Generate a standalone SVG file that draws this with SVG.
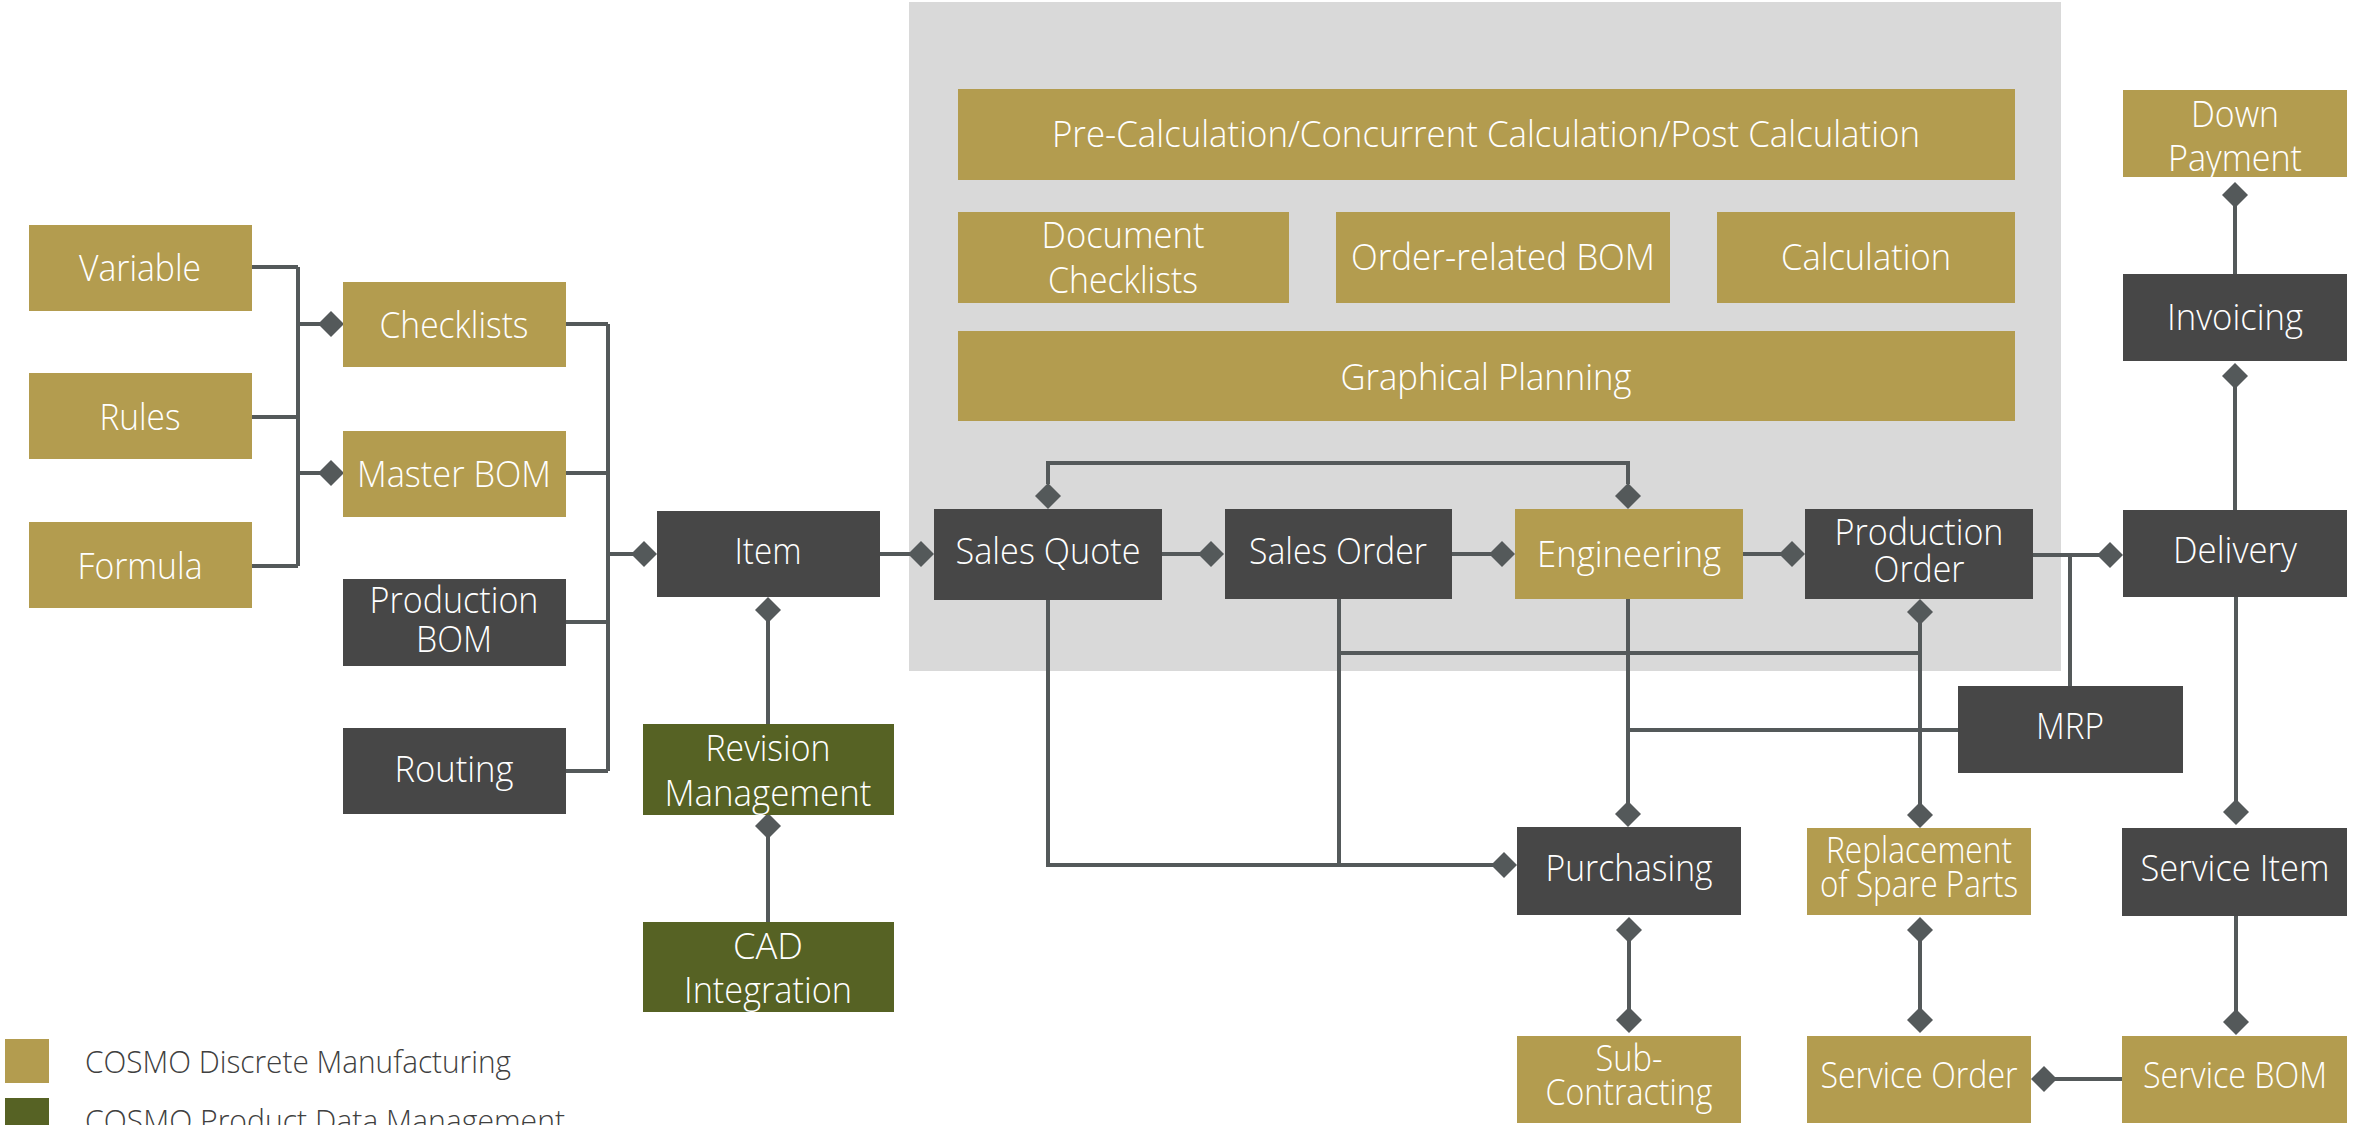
<svg xmlns="http://www.w3.org/2000/svg" xmlns:xlink="http://www.w3.org/1999/xlink" width="2354" height="1125" viewBox="0 0 2354 1125">
<defs>
<style>
.tan{fill:#B39C4F}
.dk{fill:#474747}
.gr{fill:#566224}
.t{font-family:"Open Sans","Lato","Liberation Sans",sans-serif;font-weight:300;font-size:36px;fill:#FFFFFF;text-anchor:middle}
.lg{font-family:"Open Sans","Lato","Liberation Sans",sans-serif;font-weight:300;font-size:32px;fill:#404040}
.c{fill:none;stroke:#54595A;stroke-width:4}
.dm{fill:#54595A}
</style>
<path id="d" d="M0,-13 L13,0 L0,13 L-13,0 Z"/>
</defs>
<rect width="2354" height="1125" fill="#FFFFFF"/>
<rect x="909" y="2" width="1152" height="669" fill="#D9D9D9"/>

<g id="connectors">
<path class="c" d="M252,267H298M252,417H298M252,566H298M298,267V566M298,324H320M298,473H320"/>
<path class="c" d="M566,324H608M566,473H608M566,622H608M566,771H608M608,324V771M608,554H634"/>
<path class="c" d="M880,554H910M1162,554H1202M1452,554H1492M1743,554H1782M2033,555H2100M2070,555V686"/>
<path class="c" d="M1048,484V463H1628V484"/>
<path class="c" d="M1048,600V865H1494M1339,599V865M1339,653H1920"/>
<path class="c" d="M1628,599V804M1628,730H1958"/>
<path class="c" d="M1920,612V805"/>
<path class="c" d="M768,610V724M768,826V922"/>
<path class="c" d="M1629,930V1020M1920,930V1020"/>
<path class="c" d="M2236,597V802M2236,916V1012M2122,1079H2046"/>
<path class="c" d="M2235,376V510M2235,195V274"/>
<g class="dm">
<use xlink:href="#d" x="331" y="324"/>
<use xlink:href="#d" x="331" y="473"/>
<use xlink:href="#d" x="644" y="554"/>
<use xlink:href="#d" x="921" y="554"/>
<use xlink:href="#d" x="1211" y="554"/>
<use xlink:href="#d" x="1502" y="554"/>
<use xlink:href="#d" x="1792" y="554"/>
<use xlink:href="#d" x="2110" y="555"/>
<use xlink:href="#d" x="1048" y="496"/>
<use xlink:href="#d" x="1628" y="496"/>
<use xlink:href="#d" x="1504" y="865"/>
<use xlink:href="#d" x="1628" y="814"/>
<use xlink:href="#d" x="1920" y="612"/>
<use xlink:href="#d" x="1920" y="815"/>
<use xlink:href="#d" x="768" y="610"/>
<use xlink:href="#d" x="768" y="826"/>
<use xlink:href="#d" x="1629" y="930"/>
<use xlink:href="#d" x="1629" y="1020"/>
<use xlink:href="#d" x="1920" y="930"/>
<use xlink:href="#d" x="1920" y="1020"/>
<use xlink:href="#d" x="2236" y="812"/>
<use xlink:href="#d" x="2236" y="1022"/>
<use xlink:href="#d" x="2044" y="1079"/>
<use xlink:href="#d" x="2235" y="376"/>
<use xlink:href="#d" x="2235" y="195"/>
</g>
</g>

<g id="pre-calculation"><rect class="tan" x="958" y="89" width="1057" height="91"/><text class="t" x="1486" y="147" textLength="868" lengthAdjust="spacingAndGlyphs">Pre-Calculation/Concurrent Calculation/Post Calculation</text></g>
<g id="document-checklists"><rect class="tan" x="958" y="212" width="331" height="91"/><text class="t" x="1123" y="248" textLength="163" lengthAdjust="spacingAndGlyphs">Document</text><text class="t" x="1123" y="293" textLength="150" lengthAdjust="spacingAndGlyphs">Checklists</text></g>
<g id="order-related-bom"><rect class="tan" x="1336" y="212" width="334" height="91"/><text class="t" x="1503" y="270" textLength="304" lengthAdjust="spacingAndGlyphs">Order-related BOM</text></g>
<g id="calculation"><rect class="tan" x="1717" y="212" width="298" height="91"/><text class="t" x="1866" y="270" textLength="170" lengthAdjust="spacingAndGlyphs">Calculation</text></g>
<g id="graphical-planning"><rect class="tan" x="958" y="331" width="1057" height="90"/><text class="t" x="1486" y="390" textLength="291" lengthAdjust="spacingAndGlyphs">Graphical Planning</text></g>

<g id="variable"><rect class="tan" x="29" y="225" width="223" height="86"/><text class="t" x="140" y="281" textLength="122" lengthAdjust="spacingAndGlyphs">Variable</text></g>
<g id="rules"><rect class="tan" x="29" y="373" width="223" height="86"/><text class="t" x="140" y="430" textLength="81" lengthAdjust="spacingAndGlyphs">Rules</text></g>
<g id="formula"><rect class="tan" x="29" y="522" width="223" height="86"/><text class="t" x="140" y="579" textLength="125" lengthAdjust="spacingAndGlyphs">Formula</text></g>
<g id="checklists"><rect class="tan" x="343" y="282" width="223" height="85"/><text class="t" x="454" y="338" textLength="149" lengthAdjust="spacingAndGlyphs">Checklists</text></g>
<g id="master-bom"><rect class="tan" x="343" y="431" width="223" height="86"/><text class="t" x="454" y="487" textLength="194" lengthAdjust="spacingAndGlyphs">Master BOM</text></g>
<g id="production-bom"><rect class="dk" x="343" y="579" width="223" height="87"/><text class="t" x="454" y="613" textLength="169" lengthAdjust="spacingAndGlyphs">Production</text><text class="t" x="454" y="652" textLength="76" lengthAdjust="spacingAndGlyphs">BOM</text></g>
<g id="routing"><rect class="dk" x="343" y="728" width="223" height="86"/><text class="t" x="454" y="782" textLength="119" lengthAdjust="spacingAndGlyphs">Routing</text></g>
<g id="item"><rect class="dk" x="657" y="511" width="223" height="86"/><text class="t" x="768" y="564" textLength="67" lengthAdjust="spacingAndGlyphs">Item</text></g>
<g id="revision-management"><rect class="gr" x="643" y="724" width="251" height="91"/><text class="t" x="768" y="761" textLength="125" lengthAdjust="spacingAndGlyphs">Revision</text><text class="t" x="768" y="806" textLength="207" lengthAdjust="spacingAndGlyphs">Management</text></g>
<g id="cad-integration"><rect class="gr" x="643" y="922" width="251" height="90"/><text class="t" x="768" y="959" textLength="70" lengthAdjust="spacingAndGlyphs">CAD</text><text class="t" x="768" y="1003" textLength="168" lengthAdjust="spacingAndGlyphs">Integration</text></g>
<g id="sales-quote"><rect class="dk" x="934" y="509" width="228" height="91"/><text class="t" x="1048" y="564" textLength="185" lengthAdjust="spacingAndGlyphs">Sales Quote</text></g>
<g id="sales-order"><rect class="dk" x="1225" y="509" width="227" height="90"/><text class="t" x="1338" y="564" textLength="178" lengthAdjust="spacingAndGlyphs">Sales Order</text></g>
<g id="engineering"><rect class="tan" x="1515" y="509" width="228" height="90"/><text class="t" x="1629" y="567" textLength="184" lengthAdjust="spacingAndGlyphs">Engineering</text></g>
<g id="production-order"><rect class="dk" x="1805" y="509" width="228" height="90"/><text class="t" x="1919" y="545" textLength="169" lengthAdjust="spacingAndGlyphs">Production</text><text class="t" x="1919" y="582" textLength="91" lengthAdjust="spacingAndGlyphs">Order</text></g>
<g id="down-payment"><rect class="tan" x="2123" y="90" width="224" height="87"/><text class="t" x="2235" y="127" textLength="88" lengthAdjust="spacingAndGlyphs">Down</text><text class="t" x="2235" y="171" textLength="134" lengthAdjust="spacingAndGlyphs">Payment</text></g>
<g id="invoicing"><rect class="dk" x="2123" y="274" width="224" height="87"/><text class="t" x="2235" y="330" textLength="136" lengthAdjust="spacingAndGlyphs">Invoicing</text></g>
<g id="delivery"><rect class="dk" x="2123" y="510" width="224" height="87"/><text class="t" x="2235" y="563" textLength="124" lengthAdjust="spacingAndGlyphs">Delivery</text></g>
<g id="mrp"><rect class="dk" x="1958" y="686" width="225" height="87"/><text class="t" x="2070" y="739" textLength="68" lengthAdjust="spacingAndGlyphs">MRP</text></g>
<g id="purchasing"><rect class="dk" x="1517" y="827" width="224" height="88"/><text class="t" x="1629" y="881" textLength="167" lengthAdjust="spacingAndGlyphs">Purchasing</text></g>
<g id="replacement-of-spare-parts"><rect class="tan" x="1807" y="828" width="224" height="87"/><text class="t" x="1919" y="863" textLength="186" lengthAdjust="spacingAndGlyphs">Replacement</text><text class="t" x="1919" y="897" textLength="198" lengthAdjust="spacingAndGlyphs">of Spare Parts</text></g>
<g id="service-item"><rect class="dk" x="2122" y="828" width="225" height="88"/><text class="t" x="2235" y="881" textLength="189" lengthAdjust="spacingAndGlyphs">Service Item</text></g>
<g id="sub-contracting"><rect class="tan" x="1517" y="1036" width="224" height="87"/><text class="t" x="1629" y="1071" textLength="67" lengthAdjust="spacingAndGlyphs">Sub-</text><text class="t" x="1629" y="1105" textLength="167" lengthAdjust="spacingAndGlyphs">Contracting</text></g>
<g id="service-order"><rect class="tan" x="1807" y="1036" width="224" height="87"/><text class="t" x="1919" y="1088" textLength="197" lengthAdjust="spacingAndGlyphs">Service Order</text></g>
<g id="service-bom"><rect class="tan" x="2122" y="1036" width="225" height="87"/><text class="t" x="2235" y="1088" textLength="184" lengthAdjust="spacingAndGlyphs">Service BOM</text></g>

<g id="legend">
<rect class="tan" x="5" y="1039" width="44" height="44"/>
<text class="lg" x="85" y="1073" textLength="426" lengthAdjust="spacingAndGlyphs">COSMO Discrete Manufacturing</text>
<rect class="gr" x="5" y="1098" width="44" height="44"/>
<text class="lg" x="85" y="1132" textLength="480" lengthAdjust="spacingAndGlyphs">COSMO Product Data Management</text>
</g>
</svg>
